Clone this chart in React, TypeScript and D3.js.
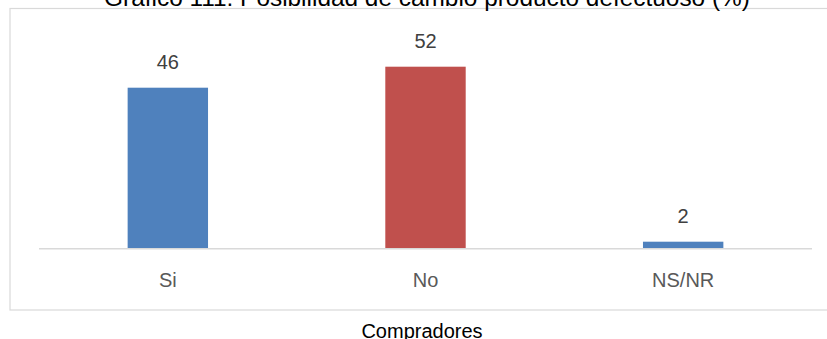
import React from "react";
import * as d3 from "d3";

const categories: string[] = ["Si", "No", "NS/NR"];
const values: number[] = [46, 52, 2];
const barColors: string[] = ["#4F81BD", "#C0504D", "#4F81BD"];
const titleText = "Gráfico 111: Posibilidad de cambio producto defectuoso (%)";
const axisTitle = "Compradores";

const W = 827;
const H = 339;
const FONT = "'Liberation Sans', Arial, sans-serif";

export default function App() {
  const baseY = 248.7;
  const x = d3.scaleBand<string>().domain(categories).range([39, 812]).padding(0);
  const y = d3.scaleLinear().domain([0, 60]).range([baseY, baseY - 210]);
  const bw = x.bandwidth() * 0.312;

  return (
    <div style={{ position: "fixed", left: 0, top: 0 }}>
      <svg width={W} height={H} style={{ display: "block" }}>
        <rect x={0} y={0} width={W} height={H} fill="#ffffff" />
        <rect x={10} y={8.5} width={W} height={301.5} fill="#ffffff" stroke="#D9D9D9" strokeWidth={1.2} />
        <text x={427} y={6} textAnchor="middle" fontFamily={FONT} fontSize={24.4} fill="#000000">
          {titleText}
        </text>
        {categories.map((c, i) => {
          const cx = (x(c) as number) + x.bandwidth() / 2;
          return (
            <g key={c}>
              <rect x={cx - bw / 2} y={y(values[i])} width={bw} height={baseY - y(values[i])} fill={barColors[i]} />
              <text x={cx} y={y(values[i]) - 18.5} textAnchor="middle" fontFamily={FONT} fontSize={20} fill="#404040">
                {values[i]}
              </text>
              <text x={cx} y={287} textAnchor="middle" fontFamily={FONT} fontSize={20} fill="#595959">
                {c}
              </text>
            </g>
          );
        })}
        <line x1={39} x2={812} y1={baseY} y2={baseY} stroke="#D9D9D9" strokeWidth={1.5} />
        <text x={422} y={337.5} textAnchor="middle" fontFamily={FONT} fontSize={20} fill="#000000">
          {axisTitle}
        </text>
      </svg>
    </div>
  );
}
